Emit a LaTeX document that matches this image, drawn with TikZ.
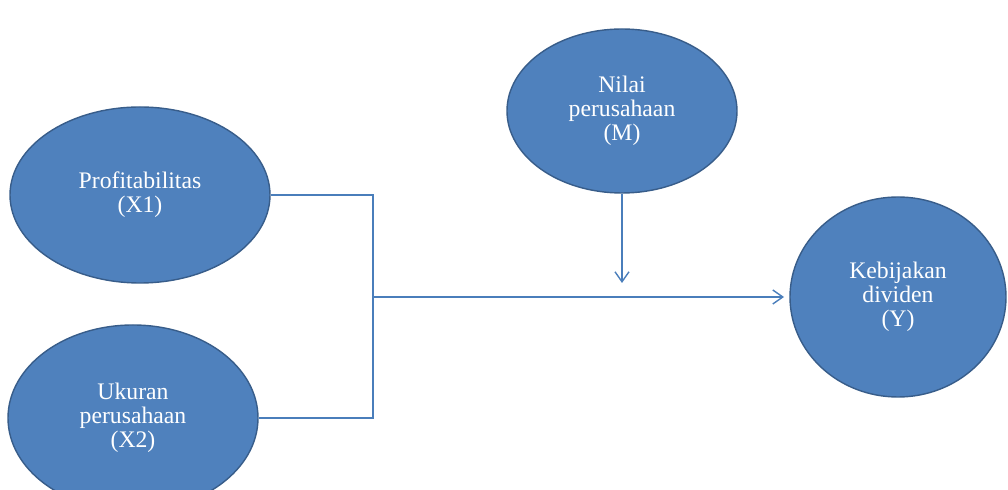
\documentclass[tikz,border=0pt]{standalone}
\usepackage{fontspec}
\setmainfont{Liberation Serif}
\usepackage{tikz}
\usetikzlibrary{shapes,arrows.meta,backgrounds}
\definecolor{varfill}{HTML}{4F81BD}
\definecolor{varedge}{HTML}{385D8A}
\definecolor{linkcol}{HTML}{4A7EBB}
\tikzset{
  varell/.style={ draw=varedge, line width=0.8pt, ellipse, fill=varfill, inner sep=0pt,
    text=white, align=center, font=\fontsize{13.5}{13.5}\selectfont }
}
\tikzset{
  link/.style={ draw=linkcol, line width=0.8pt }
}
\tikzset{
  linkarr/.style={ link, -{Straight Barb[length=2mm, width=2.8mm]} }
}

\begin{document}
\begin{tikzpicture}[x=0.2mm, y=0.2mm]
      \clip (0, 0) rectangle (1008, 490);
      \node[varell, minimum width=52mm, minimum height=35.2mm] (X1) at (140, 295) {Profitabilitas\\(X1)};
      \node[varell, minimum width=50mm, minimum height=37.2mm] (X2) at (133, 72) {Ukuran\\perusahaan\\(X2)};
      \node[varell, minimum width=46mm, minimum height=32.8mm] (M) at (622, 379) {Nilai\\perusahaan\\(M)};
      \node[varell, minimum width=43.2mm, minimum height=40mm] (Y) at (898, 193) {Kebijakan\\dividen\\(Y)};

      \coordinate (split) at (373, 193);
      \coordinate (mhit) at (622, 207);

      \draw[link] (X1.east) -| (split) |- (X2.east);
      \draw[linkarr, shorten >=3pt] (split) -- (Y.west);
      \draw[linkarr] (M.south) -- (mhit);
    \end{tikzpicture}
\end{document}
